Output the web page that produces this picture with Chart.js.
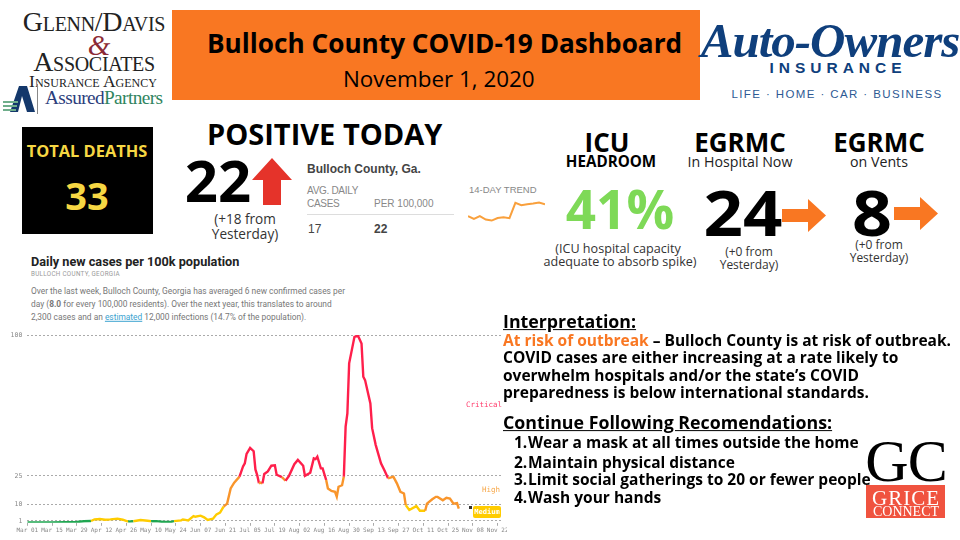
<!DOCTYPE html>
<html>
<head>
<meta charset="utf-8">
<title>Bulloch County COVID-19 Dashboard</title>
<script src="https://cdn.jsdelivr.net/npm/chart.js@4/dist/chart.umd.min.js"></script>
<style>
  html, body { margin: 0; padding: 0; background: #fff; }
  #page { position: relative; width: 960px; height: 540px; overflow: hidden; font-family: "Open Sans", sans-serif; color: #000; }
  .t { position: absolute; white-space: nowrap; line-height: 1; }
  .c { transform: translate(-50%, -50%); }
  .l { transform: translateY(-50%); }
  .b { font-weight: 700; }
  .box { position: absolute; }
  canvas { display: block; }
  .nyt { font-family: "Liberation Sans", sans-serif; color: #888; font-size: 10px; }
  .para { font-family: Roboto, sans-serif; font-size: 8.4px; color: #777; }
  .mono { font-family: "DejaVu Sans Mono", monospace; font-size: 7.5px; }
  .serif { font-family: "Liberation Serif", serif; }
  .body15 { font-size: 15.5px; font-weight: 700; }
  .head17 { font-size: 17.8px; font-weight: 700; text-decoration: underline; }
  .squat { transform: translate(-50%, -50%) scaleY(0.9); }
</style>
</head>
<body>
<div id="page">

  <!-- left logo -->
  <div class="t c serif" style="left:94px;top:22px;font-size:28px;color:#222;font-variant:small-caps;letter-spacing:-0.3px">Glenn/Davis</div>
  <div class="t c serif" style="left:99px;top:45px;font-size:29px;color:#8c2a35;font-style:italic">&amp;</div>
  <div class="t c serif" style="left:94px;top:62px;font-size:28px;color:#222;font-variant:small-caps;letter-spacing:-0.3px">Associates</div>
  <div class="t c serif" style="left:93px;top:82px;font-size:17.5px;color:#222;font-variant:small-caps">Insurance Agency</div>
  <div class="t l serif" style="left:45px;top:98px;font-size:19.3px;letter-spacing:-0.6px;color:#2c3e7c">Assured<span style="color:#2f8560">Partners</span></div>
  <svg class="box" style="left:2px;top:84px" width="36" height="30">
    <polygon points="8,28 17,2 25,2 33,28 25,28 20,12 16,28" fill="#14386b"/>
    <rect x="1" y="17" width="15" height="2" fill="#6fae8b"/>
    <rect x="1" y="21" width="14" height="2" fill="#6fae8b"/>
    <rect x="1" y="25" width="13" height="2" fill="#6fae8b"/>
    <rect x="35" y="0" width="1" height="30" fill="#888"/>
  </svg>

  <!-- title banner -->
  <div class="box" style="left:172px;top:10px;width:528px;height:90px;background:#f97722"></div>
  <div class="t l b" style="left:207px;top:43px;font-size:26.2px">Bulloch County COVID-19 Dashboard</div>
  <div class="t l" style="left:343px;top:79px;font-size:22.4px">November 1, 2020</div>

  <!-- right logo -->
  <div class="t c serif" style="left:830px;top:40px;font-size:49px;font-weight:700;font-style:italic;color:#0f3f7c;letter-spacing:-1px">Auto-Owners</div>
  <div class="t c b" style="left:838px;top:68px;font-size:15.5px;color:#0f3f7c;letter-spacing:5px;font-family:'Liberation Sans',sans-serif">INSURANCE</div>
  <div class="t c" style="left:837px;top:95px;font-size:11.5px;color:#2d5a94;letter-spacing:1.4px;font-family:'Liberation Sans',sans-serif">LIFE · HOME · CAR · BUSINESS</div>

  <!-- total deaths -->
  <div class="box" style="left:22px;top:127px;width:131px;height:107px;background:#000"></div>
  <div class="t c b" style="left:87px;top:151px;font-size:16.4px;color:#f6d743">TOTAL DEATHS</div>
  <div class="t c b" style="left:87px;top:195px;font-size:38px;color:#f6d743">33</div>

  <!-- positive today -->
  <div class="t l b" style="left:207px;top:133px;font-size:29px">POSITIVE TODAY</div>
  <div class="t c b" style="left:218px;top:180px;font-size:58px">22</div>
  <svg class="box" style="left:252px;top:158px" width="40" height="47">
    <polygon points="20,0 40,22 29,22 29,47 11,47 11,22 0,22" fill="#e5332a"/>
  </svg>
  <div class="t c" style="left:245px;top:219px;font-size:13.6px;color:#333">(+18 from</div>
  <div class="t c" style="left:245px;top:234px;font-size:13.6px;color:#333">Yesterday)</div>

  <!-- county table -->
  <div class="t l b nyt" style="left:307px;top:169px;font-size:12px;color:#444">Bulloch County, Ga.</div>
  <div class="t l nyt" style="left:307px;top:191px;letter-spacing:-.3px">AVG. DAILY</div>
  <div class="t l nyt" style="left:307px;top:204px;letter-spacing:-.3px">CASES</div>
  <div class="t l nyt" style="left:374px;top:204px">PER 100,000</div>
  <div class="box" style="left:307px;top:214px;width:147px;height:1px;background:#ddd"></div>
  <div class="t l nyt" style="left:308px;top:229px;font-size:12px;color:#444">17</div>
  <div class="t l b nyt" style="left:374px;top:229px;font-size:12px;color:#444">22</div>
  <div class="t l nyt" style="left:469px;top:190px;font-size:9.5px">14-DAY TREND</div>
  <div class="box" style="left:468px;top:201px;width:77px;height:22px"><canvas id="trendChart" width="77" height="22"></canvas></div>

  <!-- icu -->
  <div class="t c b" style="left:607px;top:142px;font-size:26px">ICU</div>
  <div class="t c b" style="left:611px;top:162px;font-size:15.2px">HEADROOM</div>
  <div class="t c b" style="left:620px;top:208px;font-size:53px;color:#7ed957">41%</div>
  <div class="t c" style="left:618px;top:249px;font-size:12.6px;color:#333">(ICU hospital capacity</div>
  <div class="t c" style="left:620px;top:262px;font-size:12.6px;color:#333">adequate to absorb spike)</div>

  <!-- in hospital -->
  <div class="t c b" style="left:740px;top:142px;font-size:26px">EGRMC</div>
  <div class="t c" style="left:740px;top:162px;font-size:14.2px;color:#222">In Hospital Now</div>
  <div class="t squat b" style="left:743px;top:212px;font-size:69px">24</div>
  <svg class="box" style="left:782px;top:199px" width="44" height="33">
    <polygon points="0,10 26,10 26,0 44,16.5 26,33 26,23 0,23" fill="#f97722"/>
  </svg>
  <div class="t c" style="left:749px;top:252px;font-size:12px;color:#333">(+0 from</div>
  <div class="t c" style="left:749px;top:265px;font-size:12px;color:#333">Yesterday)</div>

  <!-- on vents -->
  <div class="t c b" style="left:879px;top:142px;font-size:26px">EGRMC</div>
  <div class="t c" style="left:879px;top:162px;font-size:14.2px;color:#222">on Vents</div>
  <div class="t squat b" style="left:872px;top:212px;font-size:70px">8</div>
  <svg class="box" style="left:894px;top:197px" width="44" height="33">
    <polygon points="0,10 26,10 26,0 44,16.5 26,33 26,23 0,23" fill="#f97722"/>
  </svg>
  <div class="t c" style="left:879px;top:245px;font-size:12px;color:#333">(+0 from</div>
  <div class="t c" style="left:879px;top:258px;font-size:12px;color:#333">Yesterday)</div>

  <!-- chart header -->
  <div class="t l b" style="left:31px;top:262px;font-size:12.7px;font-family:Roboto,sans-serif;color:#222">Daily new cases per 100k population</div>
  <div class="t l" style="left:31px;top:274px;font-size:6.3px;font-family:Roboto,sans-serif;color:#999;letter-spacing:.3px">BULLOCH COUNTY, GEORGIA</div>
  <div class="t l para" style="left:31px;top:291px">Over the last week, Bulloch County, Georgia has averaged 6 new confirmed cases per</div>
  <div class="t l para" style="left:31px;top:304px">day (<b>8.0</b> for every 100,000 residents). Over the next year, this translates to around</div>
  <div class="t l para" style="left:31px;top:317px">2,300 cases and an <span style="color:#3ba3d0;text-decoration:underline">estimated</span> 12,000 infections (14.7% of the population).</div>

  <!-- main chart -->
  <div class="box" style="left:0;top:330px;width:507px;height:210px"><canvas id="casesChart" width="507" height="210"></canvas></div>
  <div class="t l mono" style="left:466px;top:405px;color:#ff3b6b">Critical</div>
  <div class="t l mono" style="left:482px;top:490px;color:#f7a84a">High</div>
  <div class="box" style="left:468.5px;top:506px;width:3px;height:3px;background:#333"></div>
  <div class="box" style="left:473px;top:506px;width:28px;height:12px;background:#ffcc00;border-radius:2px"></div>
  <div class="t c mono b" style="left:487px;top:512px;font-size:7px;color:#fff">Medium</div>

  <!-- interpretation -->
  <div class="t l head17" style="left:503px;top:322px">Interpretation:</div>
  <div class="t l body15" style="left:503px;top:341px"><span style="color:#f97722">At risk of outbreak</span> – Bulloch County is at risk of outbreak.</div>
  <div class="t l body15" style="left:503px;top:358px">COVID cases are either increasing at a rate likely to</div>
  <div class="t l body15" style="left:503px;top:376px">overwhelm hospitals and/or the state’s COVID</div>
  <div class="t l body15" style="left:503px;top:393px">preparedness is below international standards.</div>
  <div class="t l head17" style="left:503px;top:423px">Continue Following Recomendations:</div>
  <div class="t l body15" style="left:514px;top:443px">1.</div><div class="t l body15" style="left:528px;top:443px">Wear a mask at all times outside the home</div>
  <div class="t l body15" style="left:514px;top:463px">2.</div><div class="t l body15" style="left:528px;top:463px">Maintain physical distance</div>
  <div class="t l body15" style="left:514px;top:480px">3.</div><div class="t l body15" style="left:528px;top:480px">Limit social gatherings to 20 or fewer people</div>
  <div class="t l body15" style="left:514px;top:498px">4.</div><div class="t l body15" style="left:528px;top:498px">Wash your hands</div>

  <!-- grice connect logo -->
  <div class="t c serif" style="left:906px;top:461px;font-size:60px;letter-spacing:-1px">GC</div>
  <div class="box" style="left:866px;top:485px;width:79px;height:33px;background:#f0533f"></div>
  <div class="t c serif" style="left:906px;top:498px;font-size:21px;color:#fff;letter-spacing:1px">GRICE</div>
  <div class="t c serif" style="left:906px;top:512px;font-size:14px;color:#fff">CONNECT</div>
</div>

<script>
// values, days are counted from Mar 01
const caseDays = [0, 14, 28, 32, 36, 38, 41, 44, 47, 51, 54, 57, 60, 64, 68, 70, 73, 77, 81, 83, 87, 88, 91, 94, 95, 98, 100, 102, 105, 107, 109, 111, 113, 115, 117, 120, 122, 123, 124, 126, 128, 129, 130, 131, 132, 133, 134, 136, 138, 140, 141, 144, 146, 148, 151, 153, 156, 157, 160, 162, 163, 164, 166, 167, 169, 170, 172, 174, 175, 176, 178, 179, 180, 181, 182, 185, 187, 189, 190, 191, 194, 195, 197, 200, 202, 204, 207, 209, 211, 213, 214, 216, 220, 222, 225, 226, 229, 231, 232, 235, 237, 239, 241, 243, 244];
const caseValues = [0.2, 0.2, 0.4, 0.8, 0.95, 1.8, 2.0, 1.65, 1.8, 2.2, 1.65, 0.6, 0.8, 1.5, 1.1, 0.8, 0.9, 0.4, 0.4, 0.9, 1.3, 1.8, 1.3, 3.6, 3.2, 3.8, 2.9, 1.5, 2.2, 4.5, 5.4, 8.6, 10.2, 18.3, 21.4, 24.6, 30, 31.7, 36.7, 39.9, 38.1, 28.4, 25.4, 21.0, 21.4, 21.0, 26, 27.4, 30.4, 30.6, 25.6, 24.3, 22.4, 25, 31.2, 33.5, 30.4, 25, 26.7, 34.3, 33.9, 35.2, 29, 29, 22.8, 18.3, 17, 16.5, 13.9, 19.2, 20, 24.6, 51.2, 58.3, 84.9, 99, 99.6, 95.5, 77.8, 76, 63.6, 50.4, 41.5, 31.7, 27.8, 23.7, 24.6, 21, 16.5, 15.6, 9.4, 6.8, 8.9, 6.4, 6.4, 10.2, 12.5, 13.8, 13.8, 12, 13.3, 12.9, 10.2, 10.5, 7.5];
const xTickLabels = ['Mar 01', 'Mar 15', 'Mar 29', 'Apr 12', 'Apr 26', 'May 10', 'May 24', 'Jun 07', 'Jun 21', 'Jul 05', 'Jul 19', 'Aug 02', 'Aug 16', 'Aug 30', 'Sep 13', 'Sep 27', 'Oct 11', 'Oct 25', 'Nov 08', 'Nov 22'];
const yTickValues = [1, 10, 25, 100];
const trendDays = [1, 2, 3, 4, 5, 6, 7, 8, 9, 10, 11, 12, 13, 14];
const trendValues = [11.7, 9.3, 11.7, 8.8, 8, 10.1, 10.7, 9.9, 22.5, 20.6, 21.4, 22, 22.8, 21.4];

function riskColor(value) {
    if (value < 1) return '#1fa651';
    if (value < 10) return '#ffcc00';
    if (value < 25) return '#f9952b';
    return '#ff1f4b';
}

new Chart(document.getElementById('casesChart'), {
    type: 'line',
    data: {
        datasets: [{
            data: caseDays.map((d, i) => ({ x: d, y: caseValues[i] })),
            borderWidth: 2.4,
            pointRadius: 0,
            borderColor: '#ffcc00',
            segment: {
                borderColor: (ctx) => riskColor(Math.max(ctx.p0.parsed.y, ctx.p1.parsed.y))
            }
        }]
    },
    options: {
        responsive: false,
        animation: false,
        layout: { padding: { top: 5, right: 4, left: 0, bottom: 0 } },
        plugins: { legend: { display: false }, tooltip: { enabled: false } },
        scales: {
            x: {
                type: 'linear',
                min: 0,
                max: 269,
                border: { display: false },
                grid: { drawOnChartArea: false, tickLength: 3, color: '#aaa' },
                ticks: {
                    stepSize: 14,
                    includeBounds: false,
                    autoSkip: false,
                    maxRotation: 0,
                    padding: 1,
                    color: '#888',
                    font: { family: 'DejaVu Sans Mono', size: 6 },
                    callback: (value) => xTickLabels[value / 14]
                },
                afterFit: (scale) => {
                    scale.height = 17.2;
                    scale.paddingLeft = 0;
                    scale.paddingRight = 0;
                }
            },
            y: {
                min: 0,
                max: 100,
                border: { display: false, dash: [2, 2] },
                grid: { color: '#aaa', drawTicks: false, lineWidth: 1 },
                ticks: {
                    color: '#888',
                    padding: 5,
                    font: { family: 'DejaVu Sans Mono', size: 6.5 }
                },
                afterBuildTicks: (scale) => {
                    scale.ticks = yTickValues.map((v) => ({ value: v }));
                },
                afterFit: (scale) => {
                    scale.width = 27.3;
                    scale.paddingTop = 0;
                    scale.paddingBottom = 0;
                }
            }
        }
    }
});

new Chart(document.getElementById('trendChart'), {
    type: 'line',
    data: {
        labels: trendDays,
        datasets: [{
            data: trendValues,
            borderColor: '#f9a03c',
            borderWidth: 2,
            pointRadius: 0
        }]
    },
    options: {
        responsive: false,
        animation: false,
        plugins: { legend: { display: false }, tooltip: { enabled: false } },
        scales: {
            x: { display: false },
            y: { display: false, min: 6, max: 24 }
        }
    }
});
</script>
</body>
</html>
